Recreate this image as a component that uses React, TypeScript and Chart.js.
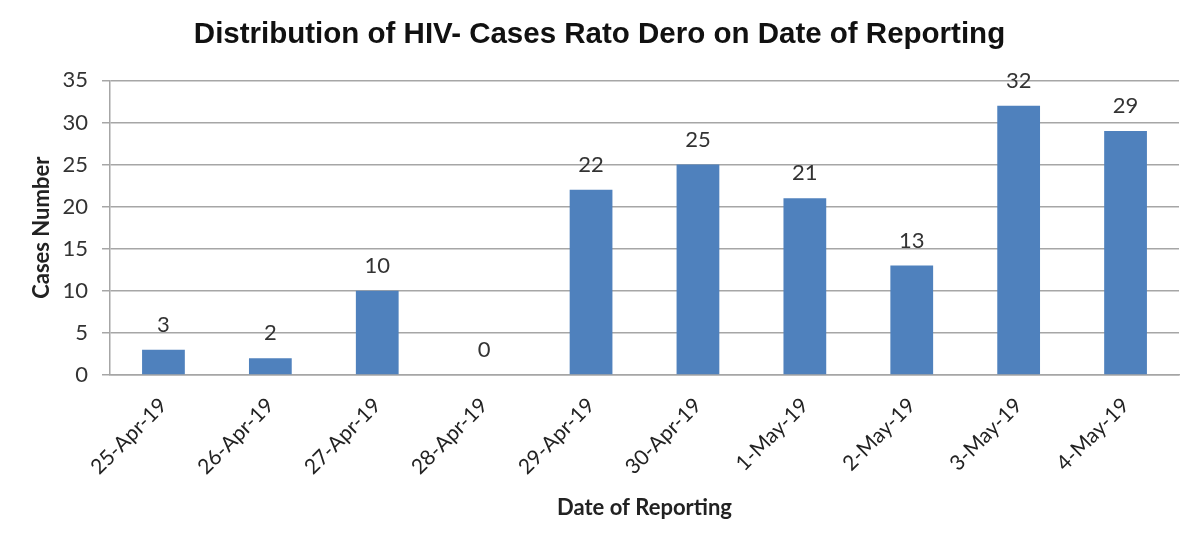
import React, { useEffect, useRef } from "react";
import { Chart, registerables } from "chart.js";

Chart.register(...registerables);

const categories = [
  "25-Apr-19", "26-Apr-19", "27-Apr-19", "28-Apr-19", "29-Apr-19",
  "30-Apr-19", "1-May-19", "2-May-19", "3-May-19", "4-May-19",
];
const cases = [3, 2, 10, 0, 22, 25, 21, 13, 32, 29];
const yTicks = [0, 5, 10, 15, 20, 25, 30, 35];

const titleText = "Distribution of HIV- Cases Rato Dero on Date of Reporting";
const xTitle = "Date of Reporting";
const yTitle = "Cases Number";

const AXIS_FONT = "Lato, 'Open Sans', 'Noto Sans', sans-serif";

const valueLabels = {
  id: "valueLabels",
  afterDatasetsDraw(chart: any) {
    const ctx = chart.ctx;
    const meta = chart.getDatasetMeta(0);
    ctx.save();
    ctx.font = `22px ${AXIS_FONT}`;
    ctx.fillStyle = "#333333";
    ctx.textAlign = "center";
    ctx.textBaseline = "middle";
    meta.data.forEach((bar: any, i: number) => {
      ctx.fillText(String(cases[i]), bar.x, bar.y - 25);
    });
    ctx.restore();
  },
};

export default function App() {
  const ref = useRef<HTMLCanvasElement | null>(null);
  useEffect(() => {
    document.body.style.margin = "0";
    if (!ref.current) return;
    const chart = new Chart(ref.current, {
      type: "bar",
      data: {
        labels: categories,
        datasets: [
          {
            data: cases,
            backgroundColor: "#4F81BD",
            borderWidth: 0,
            categoryPercentage: 1,
            barPercentage: 0.4,
          },
        ],
      },
      options: {
        animation: false,
        responsive: false,
        maintainAspectRatio: false,
        layout: { padding: { left: 20, right: 21, top: 0, bottom: 0 } },
        plugins: {
          legend: { display: false },
          tooltip: { enabled: false },
          title: {
            display: true,
            text: titleText,
            color: "#111111",
            font: { family: "'Liberation Sans', Arial, sans-serif", size: 29.5, weight: "bold" },
            padding: { top: 17, bottom: 28 },
          },
        },
        scales: {
          x: {
            grid: { display: false, drawTicks: false },
            border: { display: true, color: "#a6a6a6", width: 1.5 },
            ticks: {
              color: "#222222",
              font: { family: AXIS_FONT, size: 21 },
              maxRotation: 45,
              minRotation: 45,
              padding: 18,
              autoSkip: false,
            },
            title: {
              display: true,
              text: xTitle,
              color: "#222222",
              font: { family: AXIS_FONT, size: 22, weight: "bold" },
              padding: { top: 0, bottom: 22 },
            },
            afterFit(scale: any) {
              scale.height = 168;
            },
          },
          y: {
            min: 0,
            max: 35,
            afterBuildTicks(scale: any) {
              scale.ticks = yTicks.map((v) => ({ value: v }));
            },
            grid: { color: "#a6a6a6", lineWidth: 1.5, drawTicks: true, tickLength: 8 },
            border: { display: true, color: "#a6a6a6", width: 1.5 },
            ticks: {
              color: "#333333",
              font: { family: AXIS_FONT, size: 22 },
              padding: 14,
            },
            title: {
              display: true,
              text: yTitle,
              color: "#222222",
              font: { family: AXIS_FONT, size: 22, weight: "bold" },
              padding: { top: 9, bottom: 0 },
            },
            afterFit(scale: any) {
              scale.width = 90;
            },
          },
        },
      },
      plugins: [valueLabels],
    });
    return () => chart.destroy();
  }, []);
  return (
    <div style={{ width: 1200, height: 543, background: "#ffffff" }}>
      <canvas ref={ref} width={1200} height={543} style={{ display: "block" }} />
    </div>
  );
}
